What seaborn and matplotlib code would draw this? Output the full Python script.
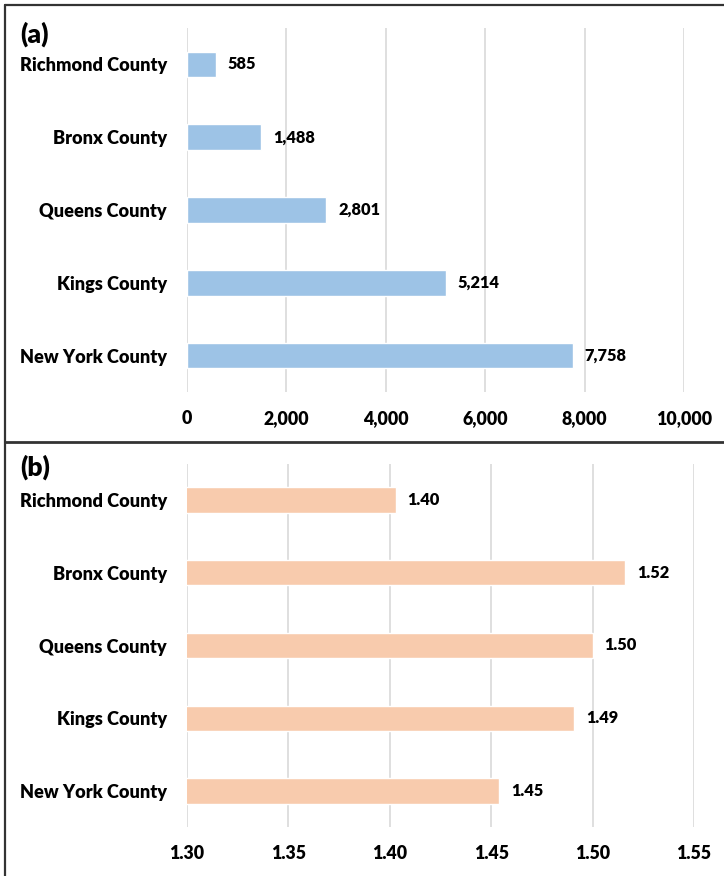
import matplotlib
matplotlib.use("Agg")
import matplotlib.pyplot as plt
import seaborn as sns
import pandas as pd
from matplotlib.lines import Line2D

counties = ["Richmond County", "Bronx County", "Queens County", "Kings County", "New York County"]
counts = [585, 1488, 2801, 5214, 7758]
ratios = [1.403, 1.516, 1.500, 1.491, 1.454]

count_ticks = [0, 2000, 4000, 6000, 8000, 10000]
ratio_ticks = [1.30, 1.35, 1.40, 1.45, 1.50, 1.55]

blue = "#9DC3E6"
peach = "#F8CBAD"
grid_col = "#D9D9D9"

sns.set_theme(style="white")
plt.rcParams["font.family"] = ["Lato", "DejaVu Sans"]
plt.rcParams["font.weight"] = "bold"

W, H = 724, 876
fig = plt.figure(figsize=(W / 100, H / 100), dpi=100)


def px_axes(left, right, top, bottom):
    return fig.add_axes([left / W, 1 - bottom / H, (right - left) / W, (bottom - top) / H])


def draw_panel(ax, values, ticks, color, fmt, tag, tag_y):
    df = pd.DataFrame({"county": counties, "value": values})
    sns.barplot(data=df, y="county", x="value", orient="h", color=color,
                width=0.35, saturation=1, ax=ax, zorder=3)
    ax.set_xlim(ticks[0], ticks[-1])
    ax.set_xticks(ticks)
    ax.set_xticklabels([fmt(t) for t in ticks])
    ax.set_xlabel("")
    ax.set_ylabel("")
    ax.grid(axis="x", color=grid_col, linewidth=1.2, zorder=0)
    ax.grid(axis="y", visible=False)
    for s in ax.spines.values():
        s.set_visible(False)
    ax.tick_params(axis="both", length=0, labelcolor="black")
    ax.tick_params(axis="x", pad=13, labelsize=12.8)
    ax.tick_params(axis="y", pad=14.5, labelsize=13.1)
    for lbl in ax.get_xticklabels() + ax.get_yticklabels():
        lbl.set_fontweight("heavy")
    ax.bar_label(ax.containers[0], labels=[fmt(v) for v in values], padding=8.5,
                 fontsize=11.8, fontweight="heavy", color="black")
    fig.text(20 / W, 1 - tag_y / H, tag, fontsize=19, fontweight="heavy",
             ha="left", va="center", color="black")


ax_a = px_axes(187, 684, 28, 392)
draw_panel(ax_a, counts, count_ticks, blue, lambda v: f"{v:,.0f}", "(a)", 34)

ax_b = px_axes(187, 694, 463.6, 827.4)
draw_panel(ax_b, ratios, ratio_ticks, peach, lambda v: f"{v:.2f}", "(b)", 467)

# panel frame lines
frame_col = "#333333"
fig.add_artist(Line2D([5 / W, 1], [1 - 5 / H, 1 - 5 / H], color=frame_col, lw=1.6,
                      transform=fig.transFigure))
fig.add_artist(Line2D([5 / W, 5 / W], [0, 1 - 5 / H], color=frame_col, lw=1.6,
                      transform=fig.transFigure))
fig.add_artist(Line2D([5 / W, 1], [1 - 442 / H, 1 - 442 / H], color=frame_col, lw=2,
                      transform=fig.transFigure))

fig.savefig("out.png", dpi=100)
